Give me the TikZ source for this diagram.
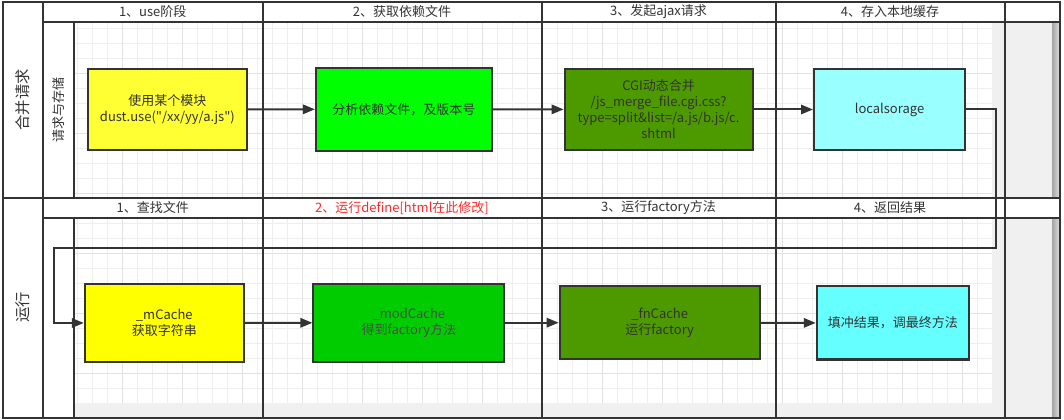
\documentclass[tikz,border=0pt]{standalone}
\usepackage{fontspec}
\setmainfont{Noto Sans CJK SC}
\newfontfamily\slfont{Noto Sans CJK SC}
\usepackage{xcolor}
\usepackage{tikz}
\usetikzlibrary{arrows.meta}
\definecolor{SLLine}{HTML}{333333}
\definecolor{SLText}{HTML}{333333}
\definecolor{SLPage}{HTML}{F0F0F0}
\definecolor{SLGrid}{HTML}{EEEEEE}
\definecolor{SLGridMajor}{HTML}{E2E2E2}
\definecolor{SLRed}{HTML}{FF2A2A}
\definecolor{SLYellowA}{HTML}{FFFF33}
\definecolor{SLGreenA}{HTML}{00FF00}
\definecolor{SLOlive}{HTML}{4D9900}
\definecolor{SLCyanA}{HTML}{99FFFF}
\definecolor{SLYellowB}{HTML}{FFFF00}
\definecolor{SLGreenB}{HTML}{00CC00}
\definecolor{SLCyanB}{HTML}{66FFFF}

\begin{document}
\begin{tikzpicture}[x=0.75pt,y=-0.75pt,
  lane/.style={SLLine,line width=1.5pt},
  head/.style={text=SLText,inner sep=1pt,font=\slfont\fontsize{9.75}{12}\selectfont},
  stepbox/.style={draw=SLLine,line width=1.5pt,align=center,text=SLText,inner sep=2pt,font=\slfont\fontsize{9.75}{12}\selectfont},
  flow/.style={SLLine,line width=1.5pt,-{Triangle[length=9pt,width=7pt]}}]
\path[use as bounding box] (0,0) rectangle (1064,420);
\fill[SLPage] (74,22) rectangle (1060,417.5);
\fill[white] (74,22) rectangle (992,403);
\foreach \gx in {77.3,92.3,...,977.3}
  \draw[SLGrid,line width=0.75pt] (\gx,22) -- (\gx,403);
\foreach \gy in {28.3,43.3,...,388.3}
  \draw[SLGrid,line width=0.75pt] (74,\gy) -- (992,\gy);
\foreach \gx in {122.3,182.3,...,962.3}
  \draw[SLGridMajor,line width=0.75pt] (\gx,22) -- (\gx,403);
\foreach \gy in {73.3,133.3,...,373.3}
  \draw[SLGridMajor,line width=0.75pt] (74,\gy) -- (992,\gy);
\shade[left color=black!35,right color=black!12] (1052,22) rectangle (1060,198);
\shade[left color=black!35,right color=black!12] (1052,218) rectangle (1060,417.5);
\fill[white] (43,2) rectangle (1060,22);
\fill[white] (43,198) rectangle (1060,218);
\fill[white] (3.3,2) rectangle (74,417.5);
\draw[lane] (3.3,2) rectangle (1060,417.5);
\draw[lane] (3.3,198) -- (1060,198);
\draw[lane] (43,22) -- (1060,22);
\draw[lane] (43,218) -- (1060,218);
\draw[lane] (43,2) -- (43,417.5);
\draw[lane] (74,22) -- (74,198) (74,218) -- (74,417.5);
\foreach \cx in {262.5,541.5,775.5,1004.5}
  \draw[lane] (\cx,2) -- (\cx,417.5);

\node[head,rotate=90,font=\slfont\fontsize{11.5}{14}\selectfont] (laneMerge) at (23,100) {合并请求};
\node[head,rotate=90,font=\slfont\fontsize{9.75}{12}\selectfont] (subStore) at (58.5,110) {请求与存储};
\node[head,rotate=90,font=\slfont\fontsize{11.5}{14}\selectfont] (laneRun) at (23,307.5) {运行};

\node[head] (hMergeA) at (152.7,12) {1、use阶段};
\node[head] (hMergeB) at (402,12) {2、获取依赖文件};
\node[head] (hMergeC) at (658.5,12) {3、发起ajax请求};
\node[head] (hMergeD) at (890,12) {4、存入本地缓存};
\node[head] (hRunA) at (152.7,208) {1、查找文件};
\node[head,text=SLRed] (hRunB) at (402,208) {2、运行define[html在此修改]};
\node[head] (hRunC) at (658.5,208) {3、运行factory方法};
\node[head] (hRunD) at (890,208) {4、返回结果};

\node[stepbox,fill=SLYellowA,minimum width=119.25pt,minimum height=60.75pt] (use) at (167.4,109.5) {使用某个模块\\dust.use("/xx/yy/a.js")};
\node[stepbox,fill=SLGreenA,minimum width=132pt,minimum height=62.25pt] (deps) at (403.9,109.2) {分析依赖文件，及版本号};
\node[stepbox,fill=SLOlive,minimum width=141pt,minimum height=60.75pt] (cgi) at (658.6,109.5) {CGI动态合并\\/js\_merge\_file.cgi.css?\\type=split\&list=/a.js/b.js/c.\\shtml};
\node[stepbox,fill=SLCyanA,minimum width=113.25pt,minimum height=60.75pt] (local) at (889.5,109.5) {localsorage};
\node[stepbox,fill=SLYellowB,minimum width=119.25pt,minimum height=59pt] (mCache) at (164.3,323) {\_mCache\\获取字符串};
\node[stepbox,fill=SLGreenB,text=black!70,minimum width=143.25pt,minimum height=58.5pt] (modCache) at (408.9,322.7) {\_modCache\\得到factory方法};
\node[stepbox,fill=SLOlive,minimum width=150pt,minimum height=54.75pt] (fnCache) at (659.7,322.7) {\_fnCache\\运行factory};
\node[stepbox,fill=SLCyanB,minimum width=114pt,minimum height=54.75pt] (result) at (892.8,323) {填冲结果，调最终方法};

\coordinate (loopRight) at (996,248);
\coordinate (loopLeft) at (54,248);
\draw[flow] (use) -- (deps);
\draw[flow] (deps) -- (cgi);
\draw[flow] (cgi) -- (local);
\draw[flow] (local.east) -| (loopRight) -- (loopLeft) |- (mCache.west);
\draw[flow] (mCache) -- (modCache);
\draw[flow] (modCache) -- (fnCache);
\draw[flow] (fnCache) -- (result);
\end{tikzpicture}
\end{document}
